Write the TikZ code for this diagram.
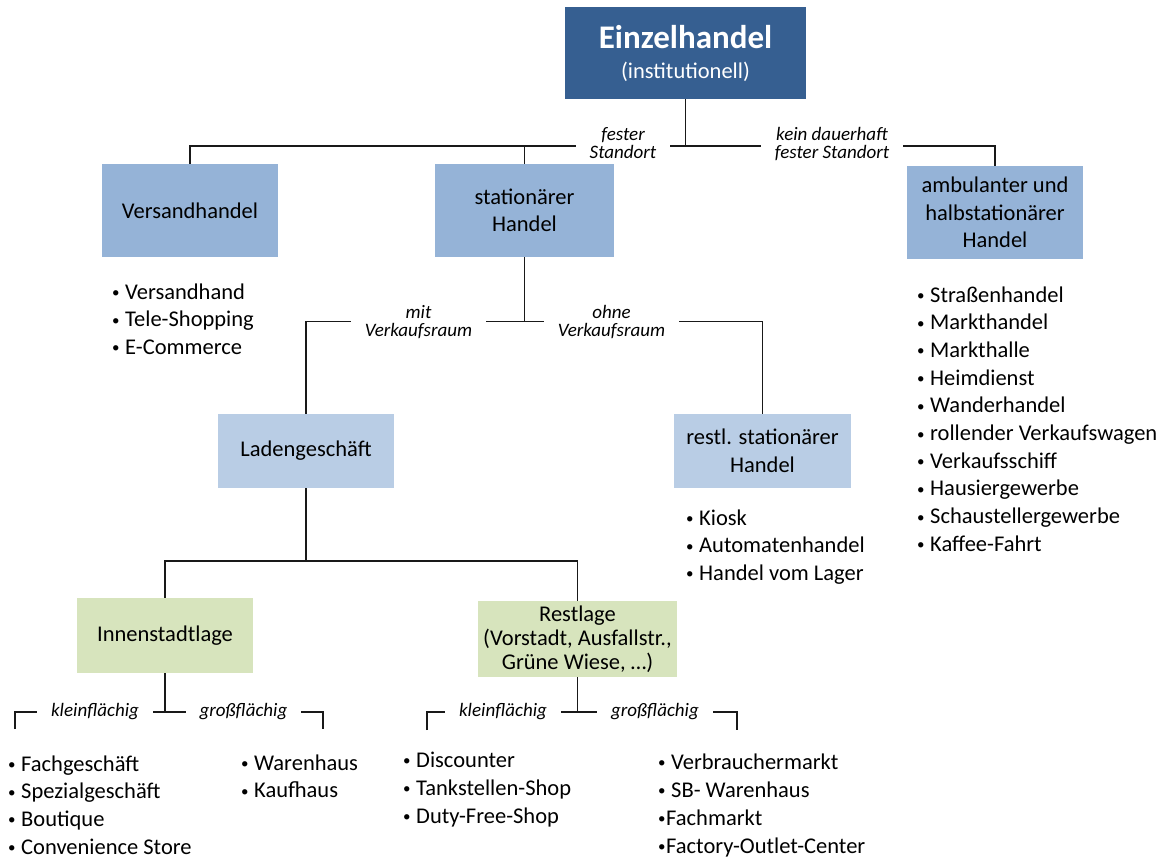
\documentclass[tikz,border=0pt]{standalone}
\usepackage{fontspec}
\setmainfont{Carlito}
\definecolor{titleblue}{HTML}{365F91}
\definecolor{midblue}{HTML}{95B3D7}
\definecolor{lightblue}{HTML}{B9CDE5}
\definecolor{lightgreen}{HTML}{D7E4BD}
\newcommand{\txtfont}{\fontsize{22.5}{27.5}\selectfont}
\newcommand{\lblfont}{\fontsize{19}{18.5}\selectfont\itshape}
\newcommand{\itm}[1][13pt]{\makebox[#1][l]{\raisebox{1.5pt}{\fontsize{15}{15}\selectfont\textbullet}}}

\begin{document}
\begin{tikzpicture}[x=1pt,y=-1pt,
  box/.style={inner sep=2pt,align=center,font=\txtfont},
  topbox/.style={box,fill=titleblue,text=white,minimum width=241pt,minimum height=92pt},
  catbox/.style={box,fill=midblue,minimum height=93pt},
  subbox/.style={box,fill=lightblue,minimum width=176pt,minimum height=74pt},
  lagebox/.style={box,fill=lightgreen,minimum height=75pt},
  lbl/.style={fill=white,inner xsep=14pt,inner ysep=1pt,align=center,font=\lblfont},
  item/.style={anchor=base west,inner sep=0pt,font=\txtfont},
  conn/.style={black!90,line width=1.2pt}]
\useasboundingbox (0,0) rectangle (1174,858);

% boxes
\node[topbox,font={\fontsize{22.5}{30}\selectfont}] (einzel) at (685.5,53)
  {{\fontsize{33}{30}\selectfont\bfseries Einzelhandel}\\(institutionell)};
\node[catbox,minimum width=176pt] (versand) at (190,210.5) {Versandhandel};
\node[catbox,minimum width=179pt] (stat) at (524.5,210.5) {stationärer\\Handel};
\node[catbox,minimum width=176pt] (ambul) at (995,212.5) {ambulanter und\\halbstationärer\\Handel};
\node[subbox] (laden) at (306,451) {Ladengeschäft};
\node[subbox,minimum width=177pt] (restl) at (762.5,451) {restl. stationärer\\Handel};
\node[lagebox,minimum width=176pt] (innen) at (165,635.5) {Innenstadtlage};
\node[lagebox,minimum width=199pt,minimum height=76pt,font={\fontsize{22.5}{24}\selectfont}] (restlage) at (577.5,639)
  {Restlage\\(Vorstadt, Ausfallstr.,\\Grüne Wiese, …)};

% connectors
\coordinate (j1) at (685.5,146);
\coordinate (j2) at (524.5,321.5);
\coordinate (j3) at (306,561);
\coordinate (j4) at (165,712);
\coordinate (j5) at (577.5,712);
\coordinate (k1) at (15,729);
\coordinate (g1) at (323,729);
\coordinate (k2) at (427,730);
\coordinate (g2) at (737,730);
\draw[conn] (einzel) -- (j1);
\draw[conn] (versand.north) |- (j1) -| (ambul.north);
\draw[conn] (stat.north) -- (stat.north |- j1);
\draw[conn] (stat) -- (j2);
\draw[conn] (laden.north) |- (j2) -| (restl.north);
\draw[conn] (laden) -- (j3);
\draw[conn] (innen.north) |- (j3) -| (restlage.north);
\draw[conn] (innen) -- (j4);
\draw[conn] (k1) |- (j4) -| (g1);
\draw[conn] (restlage) -- (j5);
\draw[conn] (k2) |- (j5) -| (g2);

% labels on the lines
\node[lbl] (fest) at (623,143) {fester\\Standort};
\node[lbl] (nfest) at (832,144) {kein dauerhaft\\fester Standort};
\node[lbl] (mit) at (418.5,322) {mit\\Verkaufsraum};
\node[lbl] (ohne) at (611.5,322) {ohne\\Verkaufsraum};
\node[lbl] (klein1) at (95,712) {kleinflächig};
\node[lbl] (gross1) at (243.5,712) {großflächig};
\node[lbl] (klein2) at (503,712) {kleinflächig};
\node[lbl] (gross2) at (655,712) {großflächig};

% lists
\foreach \t [count=\i from 0] in {Versandhand,Tele-Shopping,E-Commerce}
  \node[item] (vh\i) at (112,299+27.5*\i) {\itm\t};
\foreach \t [count=\i from 0] in {Straßenhandel,Markthandel,Markthalle,Heimdienst,Wanderhandel,
    rollender Verkaufswagen,Verkaufsschiff,Hausiergewerbe,Schaustellergewerbe,Kaffee-Fahrt}
  \node[item] (amb\i) at (917,302+27.7*\i) {\itm\t};
\foreach \t [count=\i from 0] in {Kiosk,Automatenhandel,Handel vom Lager}
  \node[item] (ki\i) at (686,525+27.5*\i) {\itm\t};
\foreach \t [count=\i from 0] in {Fachgeschäft,Spezialgeschäft,Boutique,Convenience Store}
  \node[item] (fg\i) at (8,771+27.7*\i) {\itm\t};
\foreach \t [count=\i from 0] in {Warenhaus,Kaufhaus}
  \node[item] (wh\i) at (241,770+27.5*\i) {\itm\t};
\foreach \t [count=\i from 0] in {Discounter,Tankstellen-Shop,Duty-Free-Shop}
  \node[item] (dc\i) at (403,767+28*\i) {\itm\t};
\foreach \w/\t [count=\i from 0] in {13pt/Verbrauchermarkt,13pt/SB- Warenhaus,8pt/Fachmarkt,8pt/Factory-Outlet-Center}
  \node[item] (vm\i) at (658,769+28*\i) {\itm[\w]\t};
\end{tikzpicture}
\end{document}
